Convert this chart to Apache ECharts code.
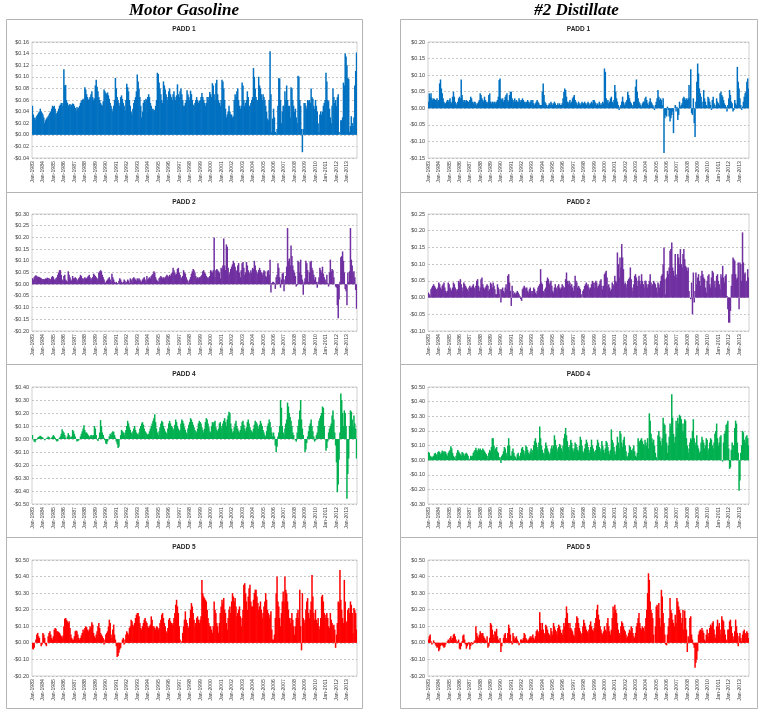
<!DOCTYPE html>
<html><head><meta charset="utf-8">
<script src="https://cdn.jsdelivr.net/npm/echarts@6/dist/echarts.min.js"></script>
<style>html,body{margin:0;padding:0;background:#fff}#c{width:763px;height:717px}</style>
</head><body><div id="c"></div>
<script>
// Categories: monthly, Jan-1983 .. Dec-2013
const years = [1983,1984,1985,1986,1987,1988,1989,1990,1991,1992,1993,1994,1995,1996,1997,1998,1999,2000,2001,2002,2003,2004,2005,2006,2007,2008,2009,2010,2011,2012,2013];
const monthNames = ['Jan','Feb','Mar','Apr','May','Jun','Jul','Aug','Sep','Oct','Nov','Dec'];
const categories = [];
years.forEach(y => monthNames.forEach(m => categories.push(m + '-' + y)));

// Values in cents per gallon
const gasP1 = [
5,3.5,3,2.5,3,3.3,3.5,3.8,4,4.5,4,3.8,
3.5,3,2,2.5,2.8,3,3.2,3.5,3.8,4,4.5,5,
4.8,5,4.5,3.5,3.8,4,4.5,5,5.2,5.5,5,5.5,
11.3,8.5,8.6,6,5.5,5,5.2,5.3,5,5.2,5.4,5.3,
5,4.6,4.2,4.8,4.5,4.7,5,5.5,5.8,6,6.2,6,
8.2,7.8,7,6.5,6,6.2,6.5,7,7.5,6.5,6,6.3,
8.5,9.5,8.3,7.5,6.5,6,5.5,5.2,5,5.8,7.8,7.5,
7.2,7,7.3,6.8,6.2,5.5,5,4.5,4,5,6,9.8,
8,6.5,6,5.5,5,6.5,6.8,6.2,5.5,5,4.2,6,
8.8,8.2,7.5,6,5,4,3.5,4.5,5.5,6,6.5,7.5,
10.4,9.2,8,6.5,5,3,4,5.5,6,5.8,6.2,6,
6.5,7,6.5,5.5,5,4.5,4.5,4.2,4.3,5,6,10.7,
10.5,9,8,7,6,5.5,9.2,8.5,7.8,7,6.5,6,
7.5,8,7,6.5,6,7,7.5,6.5,6,6.8,8.7,7,
6.5,7.5,8,7,6,5,5,5.5,6,7.7,7,6.5,
6,7.6,7,6,5.2,5,5.5,6,6.5,6,5.5,5.8,
6,6.5,7.2,6.5,6,5.5,5,5.5,6.5,6,6.5,7.4,
7,6.5,8.9,8.5,7,6,8.9,9.5,7,6,5.5,5,
6,9.5,9.2,8,6,4.5,3,3.5,4,5,4,3.5,
3.5,3,3.2,6,7,6.5,7.5,8,6,5,4.5,5,
9,8.5,6,5,5.5,6,7.5,6.5,5,5,5.5,6,
6.5,11.5,10,8,6.5,6,6,10,8.5,8,7,6,
7,6.5,6,5,4,2.8,2.5,6,14.4,7,0.5,2.8,
4.5,3,0.5,0.2,1,5,9.8,9.7,6,2,4,5,
5,7.5,6,8.5,6,5,5,3,8.2,8,6,5,
4,4.5,3,2,10.2,10,6,5,1,-3,1,5.5,
5.5,5,4.5,6,5.8,6,5.5,8,6.5,6.2,5,4.5,
6,5,4,2,0.5,3.5,4,3.5,4,5,5.5,6,
10.7,9.2,6,5.8,4.5,3,2,5,8,6.5,5.5,6,
5,6.5,7,0.5,0,2.5,2.5,3,9,8.5,14,13.5,
12,9.8,9.6,0.5,1.5,3.2,2,1.5,3,8.5,11,14.2];

const gasP2 = [
2.5,2,3,3.5,3.8,3.5,3,3.2,3,2.8,2.5,2.2,
2,2.2,2,2.5,2.3,2.8,2.5,2.5,2.2,2,3,3.5,
3,2,2,2.5,3,4,5,6,6,4,2,1.5,
3.5,4,2,1.5,1,5.5,4,3,2,1.5,3.5,2.5,
2.5,3,2.5,2,1.5,2.5,3,4,3.5,2.5,2,2.5,
3,2.5,2.5,3,3.5,4,3,2,2.5,3,4.5,4,
3.5,3,2.5,2,5,5.5,6,5.5,4,3,2,1,
0.5,1.5,2,2.5,3,2,1,4.5,3,2,1,0.5,
1,0.5,0,1.5,2.5,2,1,0.5,1,2,1.5,0.5,
1,2,1.5,0.5,2.5,2,1,2.5,3,2.5,2,1.5,
2.5,2,2.5,2,1.5,1,2,2.5,3,2,1,3.5,
2,2.5,3,2.5,3.5,4,4.5,5.5,5,3,2,1.5,
1,2.5,3,3.5,3,2.5,3,2.5,3,3.5,4,3.5,
3,4,3.5,4.5,5,7,6,5,4,4.5,6.5,7,
5,4,3,2.5,3.5,6,5,4.5,3,2,1.5,0.5,
2,3,4.5,5.5,6.5,6,5,3.5,2.5,3,2.5,3,
3,3.5,4,5.5,6,5,4.5,3.5,3,2.5,3,3.5,
6,5.5,5,6,20,3,6,6.5,6,5.5,5,2.5,
7,6.5,8,19.5,8,6,17,16,7,4,5,6.5,
7.5,8.5,10,9,7.5,6,5.5,8,9,5,3,6,
9,9.5,7,4,5,9.5,8,6,5,4.5,6,5,
7,6.5,10,8,6,5,4.5,6,7,6,5,4,
5,6,5.5,3.5,3,5.5,6,4,10.5,-3.5,0.5,1,
1,0.5,-2,3,4,9,7,3,-1.5,2,4.5,5,
-3,2,3.5,7.5,24,10,11,8,16.5,12,8,6,
5,3.5,-1,-0.5,10,9.5,5,10.5,4,2,-4.5,1,
2.5,10,9,6,1,5,9.5,10,7,6,4,2,
3,1,-1.5,1,3,7,6,5,7.5,4.5,3,2,
1,4,0.5,-1,5,10.5,5.5,6.5,6,3,0,-1,
-1.5,-9,-14.5,-6.5,1,11.5,12,14,10,5,-2,-3,
-9,5,1,5.5,24,10.5,8,5,5.5,3,-2.5,-10.5];

const gasP4 = [
3,0,-2,-2.5,-1,0,1,1.5,2,2.5,2,1.5,
1,0,-1,0,0.5,1,2,1.5,0.5,0,1,2,
3,2,1,-1,-2,-1.5,0,1,2,4,7.5,6,
5,3,1,0,2,4.5,3,2,1,2,7,6,
4,2,0,-2,-1.5,-1,0,2,4,6,8,10.5,
7,5,5,4,3,2,2,3,3,2,3,10,
8,3,0,-1.5,1,5,14.5,10,5,3,1,-1,
-3.5,-4,-2,0,2,4,3,5,6,5.5,3,1,
-2,-4,-7,-6,0,3,7,6,5,3,5,7,
10,14,12,9,7,5,4,6,8,10,7,5,
4,3,5,8,10,12,13,11,8,6,5,4,
3,4,6,8,10,12,14,16,19,13,8,5,
3,6,9,12,14,13,10,8,6,5,4,8,
12,14,12,10,9,7,8,11,15,13,10,8,
6,7,12,15,14,12,9,7,5,4,8,11,
13,16,15,13,11,9,7,6,5,8,12,14,
13,12,9,7,5,8,13,16,15,12,9,6,
5,10,13,12,13,14,9,7,6,8,12,13,
8,10,12,14,16,13,10,15,18,21,20,12,
8,5,6,9,12,14,10,8,6,5,7,10,
13,14,11,8,6,9,13,15,12,9,7,6,
5,8,11,14,13,12,10,8,11,14,12,10,
7,5,3,2,6,10,12,15,13,9,5,2,
5,2,-5,-10,-6,2,5,10,30,24,10,5,
3,8,12,15,28,25,20,17,14,10,5,3,
0,-1,-2,5,10,15,22,30,15,8,3,0,
-10,-8,-3,2,6,10,12,15,10,6,2,-2,
-1,3,5,10,14,16,18,20,25,24,10,0,
-9,-7,-2,5,8,10,12,18,22,15,5,-5,
-18,-41,-35,-16,5,35,30,20,10,22,20,10,
-46,-27,-15,10,22,21,15,10,18,12,8,-15];

const gasP5 = [
-3.5,-4,-3,0,2,5,6,4,3,0,-2,-1,
6,5,3,-1,-2,0,4,6,7,5,3,2,
4,8,9,8.5,7,7,6.5,6,5,4,3,4.5,
10,14.5,15,14,13,12,13,9,5,3,2,2,
4,7,7.5,7,5,3,2,3,4.5,6,8,7,
9,10,9.5,8,7,8,10,9,12.5,11,6,4,
3,5,7,10,12,9,6,5,4,3,-1,2,
5,6,7,10,14,12,5,3,8,11,5,2,
-2,-8.5,-8,-6,-4,-3,0,2,3,-1,2,5,
7,6,5,9,10,14,13,11,10,12,15,17,
18,18,16,12,9,8,10,12,14,15,13,12,
10,9,10,11,16,14,10,10,9,8,10,9.5,
8,9,12,14,17,18,15,12,10,7,6,9,
14,15,13,12,11,12,15,18,23,26,22,18,
10,2,0,1,6,10,14,19,14,12,10,9,
15,20,24,22,18,14,10,12,15,16,14,12,
14,16,38,30,28,27,26,25,20,15,12,10,
10,8,6,10,25,20,18,12,10,6,12,18,
22,26,24,27,20,18,12,8,15,20,22,18,
25,30,28,25,27,22,16,18,20,22,16,10,
15,20,35,36,30,25,20,28,33,35,25,22,
22,26,30,32,32,28,24,20,22,25,20,15,
18,22,25,30,26,20,18,15,17,19,8,2,
2,5,15,30,40,25,22,15,10,18,25,31,
25,40,32,30,25,20,15,12,15,18,14,10,
5,10,15,18,20,15,32,10,-4.5,30,15,12,
14,20,25,27,18,15,20,25,41,28,18,14,
20,14,12,15,10,8,15,28,29,25,18,15,
17,18,15,10,9,18,14,12,10,11,8,-3,
5,12,25,24,44,26,20,15,12,38,25,12,
13,20,21,18,25,23,18,6,21,20,18,8];

const distP1 = [
2,4.5,3.5,4.5,3,2.5,3,2.8,2.5,2.5,3,2,
2.5,7.5,8.7,6,4.5,3,2,1.5,1.5,2,2.5,2,
2.5,3,2,1.5,3.5,5,3.5,2,1.5,1,2,3,
3.5,3,8.7,4,2.5,2,2.5,2,2.5,2.2,2,2,
2.5,3.5,3,2,1.5,2,2,1.5,1,1.5,2,2.5,
4.5,4,3,2.5,2,3.5,2.5,2,1.5,2,4,4.5,
2,1.5,2,1.5,2,2,1.5,2,2.5,3.5,8.5,9,
3,2.5,3,2,2.5,3.5,4,4.5,2.5,2,4,5,
5,3,2.5,2,3,2,2.5,2,2,3,2.5,2,
2.5,3,2.5,2,2,1.5,2,2.5,2,1.5,2,2.5,
2,2.5,1.5,1,1.5,2,2.5,2,1.5,1,1,1,
5,7.5,4,2,1.5,1,0.5,1,1.5,1,2,1.5,
1,1.5,2,1.5,1,1,1.5,1,1.5,1,1,1.5,
3,5,6,5.5,3.5,2,1.5,2,2.5,1.5,2,3,
3.5,4,2.5,2,1.5,1,2,1.5,1,1.5,2,1.5,
1.5,2,1.5,1,1.5,2,1.5,1,1.5,2,1.5,2.5,
2.5,2,1.5,1,1.5,1,2,1,1.5,1,2,1.5,
12,11,3,2,2.5,1.5,2,3,3.5,2,1.5,2.5,
7,5,3,2,1,-0.5,0.5,1,2,3.5,2,1,
1.5,2,2.5,5,4,3,2,1.5,1,0.5,2,2,
6.5,8.7,5,3,2,1.5,1,0.5,1.5,2,2,3,
3.5,2.5,1.5,1,2,3,2,1.5,1,0.5,-0.5,1,
2,3,5.5,3.5,2.5,3,2.5,1,3,-13.5,-3,-2,
-2.5,0.5,-0.5,-2.5,-4,-3,-2,-1,-7.5,0,1,-1,
0.5,-3.5,-2,2,0.5,1,1.5,3,3.5,3,2.5,3,
2.5,3,7,3,11.8,-1.5,-2,3,-4.5,-8.7,2,8,
13.5,10.5,6,4.5,3.5,2,0.5,5.5,3,2,1,0.5,
3.5,3,2,1,-0.5,2.5,3.5,1.5,1,0.5,3,2,
1.5,1,4.5,5,4,3.5,2.5,1.5,1,0.5,-1,1,
3,5.5,4,2,1.5,-1,-0.5,2.5,1.5,1,12.5,8,
6,3,1,-0.5,0.5,2,3.5,4.5,5,8,9,6];

const distP2 = [
1.5,1,0.5,2.5,3,3.5,4,3.5,3,2.5,2.5,3,
4.5,4,3,2.5,3.5,4,4.5,3,2,1.5,2,4.5,
4,3,2.5,2,3,4.5,4,3,2.5,2,2.5,5,
4.5,5.5,4,3,2,4.5,4,3.5,3,2.5,2,3,
3.5,3,3,3.5,4,3,2.5,3.5,5,5.5,3.5,2,
3,5.5,6,4,3,2.5,3,3.5,4,3.5,2,2.5,
4.5,4,3,4.5,3.5,2.5,1,1,4,3,1,2.5,
-1.5,2.5,3,2,1.5,3,4,2.5,6.5,7,4.5,2,
-2.5,3.5,2,1,1.5,1,1.5,2,1.5,1,0.5,-0.5,
-1,2.5,3,3.5,3,2.5,3,2,1.5,2.5,3,2,
1,2,3,2.5,1.5,1,2,3,3.5,4,8.5,4.5,
4,2,1.5,2.5,3,5,6,5.5,4,4.5,5,3.5,
2,1.5,3,4,3,2.5,3.5,4,3,2.5,3,4,
3.5,3,3,5.5,7.5,5,4,5,4.5,3.5,4,3,
2,3.5,6.5,5,4.5,3,3.5,3,2.5,1,0,2,
2.5,3.5,4,4.5,3.5,4,3,2.5,3,4,5,4.5,
3,4.5,5,4.5,3,3.5,4,5,5.5,3.5,2.5,3.5,
7,7.5,8,6,3.5,4,3,2,2.5,4.5,4,3.5,
6.5,5,4.5,13.5,10,6,12,9,16,12,8.5,4,
4.5,4,3,5,5.5,6,9,5.5,3,2,4,6.5,
7,6,3.5,5,6.5,5,4,7,5,4,3,5,
5,4,3,4,5,7,4.5,3.5,4,5,4.5,4,
3,1.5,4.5,4,3,5,6.5,7,10,15,5.5,1,
6,8,7,9,14,14.5,16.5,9,8,6.5,13,7,
6,13,12,10,14.5,10,9,13,14.5,11.5,9.5,9,
8,9,2,0,-0.5,4.5,-5,7.5,-1.5,2,7.5,4,
6,7,5,3.5,6.5,8,7,6,5.5,3,1.5,5,
6.5,7,4,3,6,8,7.5,4,5,3,6.5,7,
5,4,2.5,7,6,9.5,6,4.5,6.5,7,0.5,-3.5,
-7.5,-7.5,-4,3.5,7,12,11.5,11,7,5.5,6,10.5,
-3.5,10.5,10,5,19.5,10.5,7,7.5,4.5,5,8.5,6];

const distP4 = [
5.5,5,3,2,2.5,2,3,4.5,5,4,3.5,5.5,
6,5.5,4,5,6.5,6,5,6,5.5,4,3,5,
6,7,9.5,8,5,3,2,1,3,5,7,6,
5,4,3,5.5,5,4,3,4.5,5,4,3,0,
1,3,2.5,3,5,6,7,8.5,7,6,8,7,
8,7,6.5,8,7,6,5,4,3,1,5,7,
6,9,15,15,10,7,8,9,6,5,2,2,
-2,3,4,6,9,8,5,3,10,15,10,3,
3,6,8,5,3,2,1,4,5,3,2,5,
8,9,7,4,6,10,9,7,5,4,6,8,
5,7,10,13,15,12,9,7,12,23,15,10,
7,5,4,8,12,10,8,6,4,5,8,10,
8,10,17,14,10,8,6,9,11,10,8,6,
10,15,18,22,17,13,9,7,10,14,12,8,
6,8,12,11,9,7,6,10,16,14,10,6,
5,8,11,14,12,9,7,5,9,14,10,8,
6,5,7,10,14,12,9,6,8,13,10,7,
5,8,13,12,9,6,4,7,21,14,12,9,
6,4,10,16,12,8,20,18,12,9,14,16,
10,6,3,2,5,10,9,7,6,8,10,6,
3,2,5,15,13,12,14,15,13,11,10,14,
12,10,15,8,32,27,18,15,12,14,10,5,
2,0,17,20,16,13,10,15,29,25,24,18,
12,5,10,16,25,23,45,29,18,12,16,27,
22,29,25,31,30,28,20,25,20,28,27,15,
10,5,8,12,15,14,20,28,15,10,12,17,
10,8,5,6,12,16,14,12,8,10,15,14,
6,8,12,15,14,10,8,12,18,20,25,15,
10,12,16,17,0,-1,12,18,20,24,25,27,
8,-6,-5,7,12,10,10,22,27,25,12,5,
-21,-14,5,10,20,19,14,12,16,17,15,10];

const distP5 = [
2,4,5,1,-1,0,1.5,0.5,-1,-2,-3,-2.5,
-5,-4,-2,-1,-1.5,-2,-3,-2.5,-1,0,1,2,
1,3,4,2,3,5,5.5,4,2,0.5,1,2,
-3.5,-4,-2,1,4.5,5,2,-1,-3.5,-2,-1,0.5,
-4,-2,0.5,-1,-0.5,1,1.5,10,6,4,3,5,
7,6,5,6,4,3,2,1,4,-3,-2,3,
12,11,8,5,3,7,6.5,8.5,4,2,1,3,
-5.5,-2,0,3,5,6,2,3,6,11,9,5,
1,-1,6,4,2,3,4,2,1,-1.5,0,2,
2,1.5,3,6,5,3,2,1,2,3,4,3,
4,5,3,2,4,7,8,7,6,18.5,12,8,
12,8,6,5,11,10,8,6,5,4,9,7,
5,12,10,8,7,5,9,11,10,8,6,5,
8,12,10,15,22,18,12,9,12,9,8,7,
5,4,9,12,16,15,12,9,7,5,6,10,
14,12,10,8,7,6,8,11,13,10,8,7,
9,12,15,20,23,17,14,10,8,6,5,7,
10,8,7,12,15,10,7,5,8,15,22,18,
23,20,18,12,8,6,5,10,13,12,10,8,
7,5,3,4,6,8,7,10,9,6,4,3,
6,10,12,15,18,12,9,8,10,9,7,10,
15,20,30,42,38,25,20,18,15,5,0,10,
22,23,20,24,15,10,32,28,18,12,5,-1,
-1.5,5,10,15,27,20,18,14,12,10,17,12,
27,25,22,20,18,12,15,20,8,19.5,15,8,
-5.5,4,2,15,16,5,2,-1,-3,-15,-12,-10,
-5,5,7,8,7.5,9,7.5,6,2,1,5,8,
4,6,9,11,10,12,13,8,5,3,10,14,
10,12,8,5,16,14,13,8,5,2,1,8,
8,13,14,10,6,4,2,7,14,10,6,-2,
4,6,3,1,5,7,8,6,5,7,6,3];

const panelTitles = ['PADD 1','PADD 2','PADD 4','PADD 5'];
const columnTitles = ['Motor Gasoline', '#2 Distillate'];
// axis ranges in cents: [min, max, interval]
const gasRanges = [[-4,16,2],[-20,30,5],[-50,40,10],[-20,50,10]];
const distRanges = [[-15,20,5],[-10,25,5],[-30,50,10],[-20,50,10]];

const gasSeries = [gasP1, gasP2, gasP4, gasP5];
const distSeries = [distP1, distP2, distP4, distP5];
const colors = ['#0070C0', '#7030A0', '#00B050', '#FF0000'];

// layout (pixels)
const colGridLeft = [32, 428], colGridWidth = [325, 321];
const colBoxLeft = [6, 400], colBoxRight = [362, 757];
const rowBoxTop = [19, 192, 364, 537, 708];
const rowGridTop = [42, 214, 387, 560], rowGridH = [116, 117, 117, 116];

const grids = [], xAxes = [], yAxes = [], series = [], graphics = [];
const fmt = v => (v < 0 ? '-' : '') + '$' + (Math.abs(v) / 100).toFixed(2);
const FONT = '"Liberation Sans", Arial, sans-serif';

[gasSeries, distSeries].forEach((col, c) => {
  const ranges = c === 0 ? gasRanges : distRanges;
  col.forEach((data, r) => {
    const idx = grids.length;
    grids.push({left: colGridLeft[c], width: colGridWidth[c], top: rowGridTop[r], height: rowGridH[r],
      show: true, borderColor: '#d0d0d0', borderWidth: 1, backgroundColor: '#fff'});
    xAxes.push({type: 'category', gridIndex: idx, data: categories, boundaryGap: true,
      axisLine: {show: false, onZero: false}, axisTick: {show: false}, splitLine: {show: false},
      axisLabel: {rotate: 90, interval: (i) => i % 12 === 0, fontSize: 5.2, color: '#404040',
        fontFamily: FONT, margin: 3}});
    yAxes.push({type: 'value', gridIndex: idx, min: ranges[r][0], max: ranges[r][1], interval: ranges[r][2],
      axisLine: {show: false}, axisTick: {show: false},
      splitLine: {show: true, lineStyle: {color: '#b8b8b8', type: [2, 2], width: 0.8}},
      axisLabel: {formatter: fmt, fontSize: 5.5, color: '#404040', fontFamily: FONT, margin: 3}});
    series.push({type: 'bar', xAxisIndex: idx, yAxisIndex: idx, data: data,
      barWidth: 1.5, itemStyle: {color: colors[r]}, animation: false, silent: true});
    const cx = (colBoxLeft[c] + colBoxRight[c]) / 2;
    graphics.push({type: 'text', x: cx, y: rowBoxTop[r] + 10, style: {text: panelTitles[r],
      textAlign: 'center', textVerticalAlign: 'middle', fontSize: 6.5, fontWeight: 'bold',
      fontFamily: FONT, fill: '#262626'}});
    graphics.push({type: 'rect', shape: {x: colBoxLeft[c] + 0.5, y: rowBoxTop[r] + 0.5,
      width: colBoxRight[c] - colBoxLeft[c], height: rowBoxTop[r + 1] - rowBoxTop[r]},
      style: {fill: null, stroke: '#b4b4b4', lineWidth: 1}, silent: true});
  });
  graphics.push({type: 'text', x: (colBoxLeft[c] + colBoxRight[c]) / 2 + (c === 0 ? 0 : -2), y: 11,
    style: {text: columnTitles[c], textAlign: 'center', textVerticalAlign: 'middle',
      fontSize: 17, fontWeight: 'bold', fontStyle: 'italic', fontFamily: '"Liberation Serif", "Times New Roman", serif',
      fill: '#000'}});
});

const chart = echarts.init(document.getElementById('c'), null, {renderer: 'canvas'});
chart.setOption({animation: false, backgroundColor: '#fff', grid: grids, xAxis: xAxes, yAxis: yAxes,
  series: series, graphic: graphics});
</script></body></html>
